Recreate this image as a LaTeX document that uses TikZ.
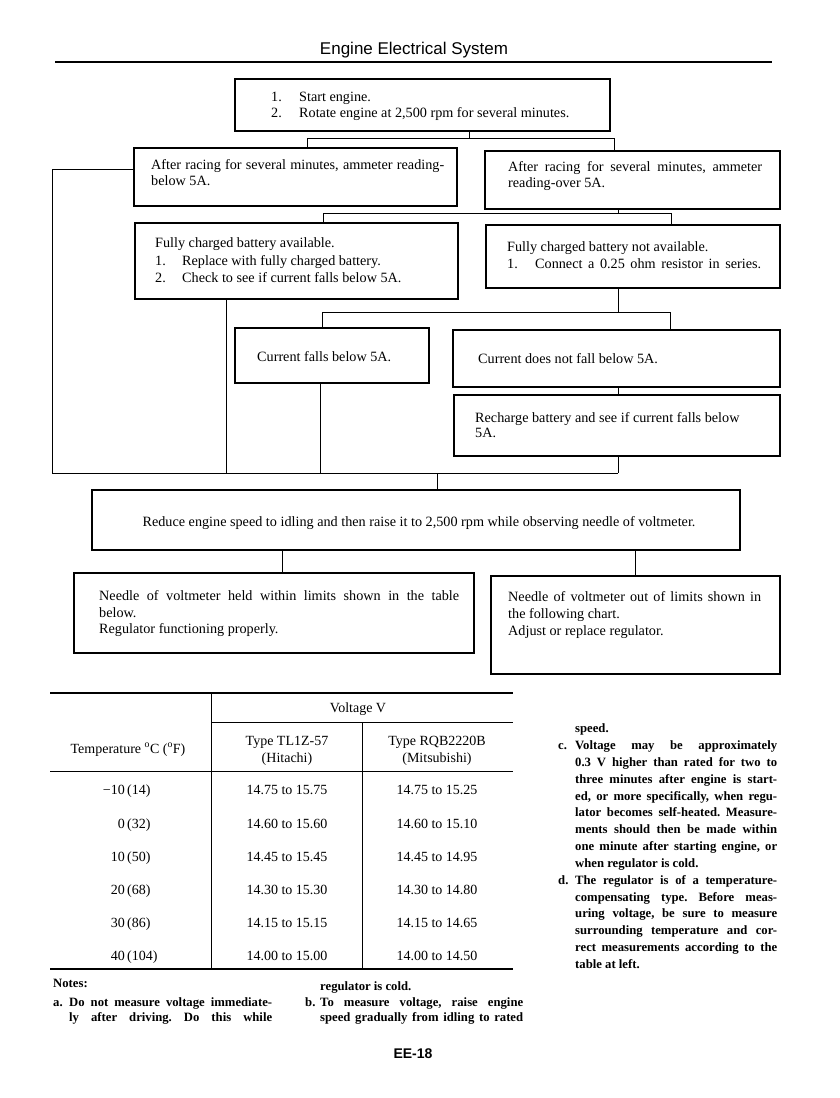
\documentclass[tikz,border=0pt]{standalone}
\usepackage{fontspec}
\setmainfont{Liberation Serif}
\newfontfamily\sansfam{Liberation Sans}
\usetikzlibrary{fit}
\frenchspacing
\newcommand\fcf{\fontsize{14.2}{16}\selectfont}
\newcommand\ttlf{\sansfam\fontsize{17}{20}\selectfont}
\newcommand\pgnf{\sansfam\bfseries\fontsize{14}{16}\selectfont}
\newcommand\ntf{\bfseries\fontsize{12.7}{16}\selectfont}
\newcommand\tbf{\fontsize{14}{16}\selectfont}
\begin{document}
\begin{tikzpicture}[x=1pt,y=-1pt,
 box/.style={draw, line width=1.1pt, inner sep=0pt},
 wire/.style={line width=0.9pt},
 tx/.style={anchor=base west, inner sep=0pt, font=\fcf},
 nt/.style={anchor=base west, inner sep=0pt, font=\ntf},
 tb/.style={anchor=base, inner sep=0pt, font=\tbf},
 rulethick/.style={line width=1.6pt},
 rulethin/.style={line width=0.9pt}]
\useasboundingbox[fill=white] (0,0) rectangle (839,1098);

% title
\node[anchor=base, inner sep=0pt, font=\ttlf] (title) at (414,54) {Engine Electrical System};
\draw[rulethick] (55,62) -- (772,62);

% boxes
\node[box, fit={(235,79) (610,131)}] (A) {};
\node[box, fit={(134,148) (457,206)}] (B) {};
\node[box, fit={(485,151) (780,209)}] (C) {};
\node[box, fit={(135,223) (458,299)}] (D) {};
\node[box, fit={(486,225) (780,288)}] (E) {};
\node[box, fit={(235,328) (429,383)}] (F) {};
\node[box, fit={(453,330) (780,387)}] (G) {};
\node[box, fit={(454,395) (780,456)}] (H) {};
\node[box, fit={(92,490) (740,550)}] (I) {};
\node[box, fit={(74,573) (474,653)}] (J) {};
\node[box, fit={(491,576) (780,674)}] (K) {};

% box texts
\node[tx] (tA1) at (271,101) {\makebox[28pt][l]{1.}Start engine.};
\node[tx] (tA2) at (271,117) {\makebox[28pt][l]{2.}Rotate engine at 2,500 rpm for several minutes.};
\node[tx] (tB1) at (151,169) {\hbox to 293pt{After racing for several minutes, ammeter reading-}};
\node[tx] (tB2) at (151,185) {below 5A.};
\node[tx] (tC1) at (508,171) {\hbox to 254pt{After racing for several minutes, ammeter}};
\node[tx] (tC2) at (508,187) {reading-over 5A.};
\node[tx] (tD1) at (155,247) {Fully charged battery available.};
\node[tx] (tD2) at (155,265) {\makebox[27pt][l]{1.}Replace with fully charged battery.};
\node[tx] (tD3) at (155,282) {\makebox[27pt][l]{2.}Check to see if current falls below 5A.};
\node[tx] (tE1) at (507,251) {Fully charged battery not available.};
\node[tx] (tE2) at (507,268) {\makebox[28pt][l]{1.}\hbox to 226pt{Connect a 0.25 ohm resistor in series.}};
\node[tx] (tF1) at (257,361) {Current falls below 5A.};
\node[tx] (tG1) at (478,363) {Current does not fall below 5A.};
\node[tx] (tH1) at (475,422) {Recharge battery and see if current falls below};
\node[tx] (tH2) at (475,437) {5A.};
\node[tx, anchor=base] (tI1) at (419,526) {Reduce engine speed to idling and then raise it to 2,500 rpm while observing needle of voltmeter.};
\node[tx] (tJ1) at (99,600) {\hbox to 360pt{Needle of voltmeter held within limits shown in the table}};
\node[tx] (tJ2) at (99,617) {below.};
\node[tx] (tJ3) at (99,633) {Regulator functioning properly.};
\node[tx] (tK1) at (508,601) {\hbox to 253pt{Needle of voltmeter out of limits shown in}};
\node[tx] (tK2) at (508,618) {the following chart.};
\node[tx] (tK3) at (508,635) {Adjust or replace regulator.};

% connectors
\coordinate (jA) at (469,138);
\coordinate (jB) at (307,138);
\coordinate (jC) at (614,138);
\draw[wire] (A.south -| jA) -- (jA);
\draw[wire] (B.north -| jB) -- (jB) -- (jC) -- (C.north -| jC);

\coordinate (c1) at (618,213);
\coordinate (d1) at (323,213);
\coordinate (e1) at (671,213);
\draw[wire] (C.south -| c1) -- (c1);
\draw[wire] (D.north -| d1) -- (d1) -- (e1) -- (E.north -| e1);

\coordinate (e2) at (618,312);
\coordinate (f1) at (322,312);
\coordinate (g1) at (670,312);
\draw[wire] (E.south -| e2) -- (e2);
\draw[wire] (F.north -| f1) -- (f1) -- (g1) -- (G.north -| g1);
\draw[wire] (G.south -| e2) -- (H.north -| e2);

\coordinate (L1) at (52,169);
\coordinate (L2) at (52,473);
\coordinate (M) at (618,473);
\coordinate (Dd) at (226,473);
\coordinate (Fd) at (320,473);
\coordinate (Id) at (437,473);
\draw[wire] (B.west |- L1) -- (L1) -- (L2) -- (M);
\draw[wire] (H.south -| M) -- (M);
\draw[wire] (D.south -| Dd) -- (Dd);
\draw[wire] (F.south -| Fd) -- (Fd);
\draw[wire] (Id) -- (I.north -| Id);

\coordinate (jJ) at (282,560);
\coordinate (jK) at (635,560);
\draw[wire] (I.south -| jJ) -- (J.north -| jJ);
\draw[wire] (I.south -| jK) -- (K.north -| jK);

% table
\draw[rulethick] (50,693) -- (513,693);
\draw[rulethin] (211,722) -- (513,722);
\draw[rulethin] (50,771) -- (513,771);
\draw[rulethick] (50,969) -- (513,969);
\draw[rulethin] (211,693) -- (211,969);
\draw[rulethin] (362,722) -- (362,969);
\node[tb] (hV) at (358,712) {Voltage V};
\node[tb] (hT) at (128,753) {Temperature \textsuperscript{o}C (\textsuperscript{o}F)};
\node[tb] (hH1) at (287,745) {Type TL1Z-57};
\node[tb] (hH2) at (287,762) {(Hitachi)};
\node[tb] (hM1) at (437,745) {Type RQB2220B};
\node[tb] (hM2) at (437,762) {(Mitsubishi)};
\foreach \y/\t/\f/\a/\b in {794/−10/14/14.75 to 15.75/14.75 to 15.25,
  828/0/32/14.60 to 15.60/14.60 to 15.10,
  861/10/50/14.45 to 15.45/14.45 to 14.95,
  894/20/68/14.30 to 15.30/14.30 to 14.80,
  927/30/86/14.15 to 15.15/14.15 to 14.65,
  960/40/104/14.00 to 15.00/14.00 to 14.50}{
  \node[tb, anchor=base west] (r\y t) at (127,\y) {\llap{\t\thinspace}(\f)};
  \node[tb] (r\y h) at (287,\y) {\a};
  \node[tb] (r\y m) at (437,\y) {\b};
}

% notes
\node[nt] (n0) at (53,987) {Notes:};
\node[nt] (na) at (53,1006) {a.};
\node[nt] (na1) at (69,1006) {\hbox to 203pt{Do not measure voltage immediate-}};
\node[nt] (na2) at (69,1021) {\hbox to 203pt{ly after driving. Do this while}};
\node[nt] (nb0) at (320,990) {regulator is cold.};
\node[nt] (nb) at (305,1006) {b.};
\node[nt] (nb1) at (320,1006) {\hbox to 203pt{To measure voltage, raise engine}};
\node[nt] (nb2) at (320,1021) {\hbox to 203pt{speed gradually from idling to rated}};

\node[nt] (nc0) at (575,732) {speed.};
\node[nt] (nc) at (558,749) {c.};
\node[nt] (nc1) at (575,749) {\hbox to 202pt{Voltage may be approximately}};
\node[nt] (nc2) at (575,766) {\hbox to 202pt{0.3 V higher than rated for two to}};
\node[nt] (nc3) at (575,783) {\hbox to 202pt{three minutes after engine is start-}};
\node[nt] (nc4) at (575,800) {\hbox to 202pt{ed, or more specifically, when regu-}};
\node[nt] (nc5) at (575,816) {\hbox to 202pt{lator becomes self-heated. Measure-}};
\node[nt] (nc6) at (575,833) {\hbox to 202pt{ments should then be made within}};
\node[nt] (nc7) at (575,850) {\hbox to 202pt{one minute after starting engine, or}};
\node[nt] (nc8) at (575,867) {when regulator is cold.};
\node[nt] (nd) at (558,884) {d.};
\node[nt] (nd1) at (575,884) {\hbox to 202pt{The regulator is of a temperature-}};
\node[nt] (nd2) at (575,901) {\hbox to 202pt{compensating type. Before meas-}};
\node[nt] (nd3) at (575,917) {\hbox to 202pt{uring voltage, be sure to measure}};
\node[nt] (nd4) at (575,934) {\hbox to 202pt{surrounding temperature and cor-}};
\node[nt] (nd5) at (575,951) {\hbox to 202pt{rect measurements according to the}};
\node[nt] (nd6) at (575,968) {table at left.};

\node[anchor=base, inner sep=0pt, font=\pgnf] (page) at (413,1058) {EE-18};
\end{tikzpicture}
\end{document}
